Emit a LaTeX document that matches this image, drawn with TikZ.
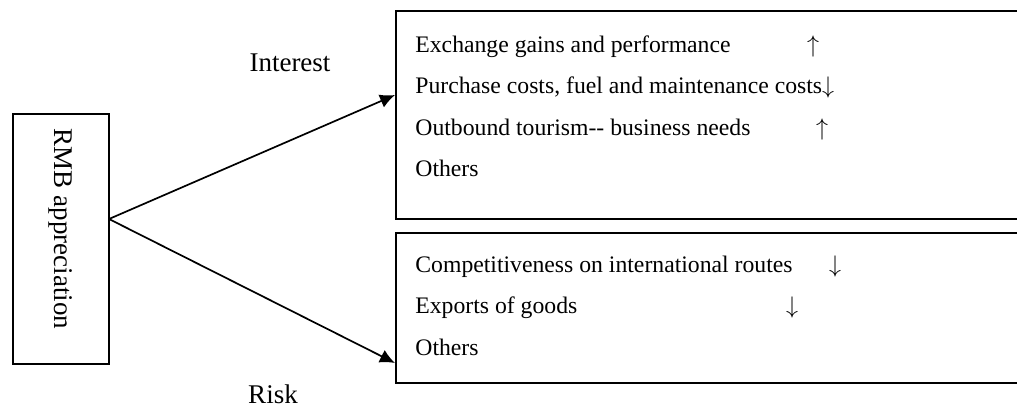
\documentclass[tikz,border=0pt]{standalone}
\usepackage{fontspec}
\setmainfont{Liberation Serif}
\usetikzlibrary{positioning,arrows.meta}

\begin{document}
\begin{tikzpicture}[x=0.5pt,y=-0.5pt,
  box/.style={draw, line width=1pt, inner sep=0pt},
  row/.style={inner sep=0pt, font=\fontsize{11.85}{14}\selectfont},
  tag/.style={inner sep=0pt, font=\fontsize{13.5}{16}\selectfont},
  link/.style={-{Latex[length=7.5pt,width=7pt]}, line width=0.85pt}]
  \clip (0,0) rectangle (1017,408);
  % LEFT: the cause, text turned down the box
  \node[box, minimum width=48pt, minimum height=125pt] (rmb) at (61,239) {};
  \node[tag, rotate=-90] (rmbtext) at (61,229) {RMB appreciation};
  % RIGHT: two boxes, open on the right side
  \node[box, minimum width=322pt, minimum height=104pt] (gain) at (718,115) {};
  \node[box, minimum width=322pt, minimum height=75pt] (loss) at (718,308) {};
  % UPPER BOX rows
  \node[row, anchor=base west] (g1) at (415,52) {Exchange gains and performance};
  \node[row, below=20.8pt of g1.base west, anchor=base west] (g2) {Purchase costs, fuel and maintenance costs$\downarrow$};
  \node[row, below=20.8pt of g2.base west, anchor=base west] (g3) {Outbound tourism-{}- business needs};
  \node[row, below=20.8pt of g3.base west, anchor=base west] (g4) {Others};
  \node[row, anchor=base] (g1dir) at (813,52) {$\uparrow$};
  \node[row, anchor=base] (g3dir) at (g3.base -| 822,0) {$\uparrow$};
  % LOWER BOX rows
  \node[row, anchor=base west] (l1) at (415,272) {Competitiveness on international routes};
  \node[row, below=20.8pt of l1.base west, anchor=base west] (l2) {Exports of goods};
  \node[row, below=20.8pt of l2.base west, anchor=base west] (l3) {Others};
  \node[row, anchor=base] (l1dir) at (835,272) {$\downarrow$};
  \node[row, anchor=base] (l2dir) at (l2.base -| 792,0) {$\downarrow$};
  % FORK: two arrows with their labels
  \coordinate (fork) at (109,219);
  \draw[link] (fork) -- ([yshift=10pt]gain.west);
  \draw[link] (fork) -- ([yshift=-27.5pt]loss.west);
  \node[tag] (interest) at (290,63) {Interest};
  \node[tag] (risk) at (273,394) {Risk};
\end{tikzpicture}
\end{document}
